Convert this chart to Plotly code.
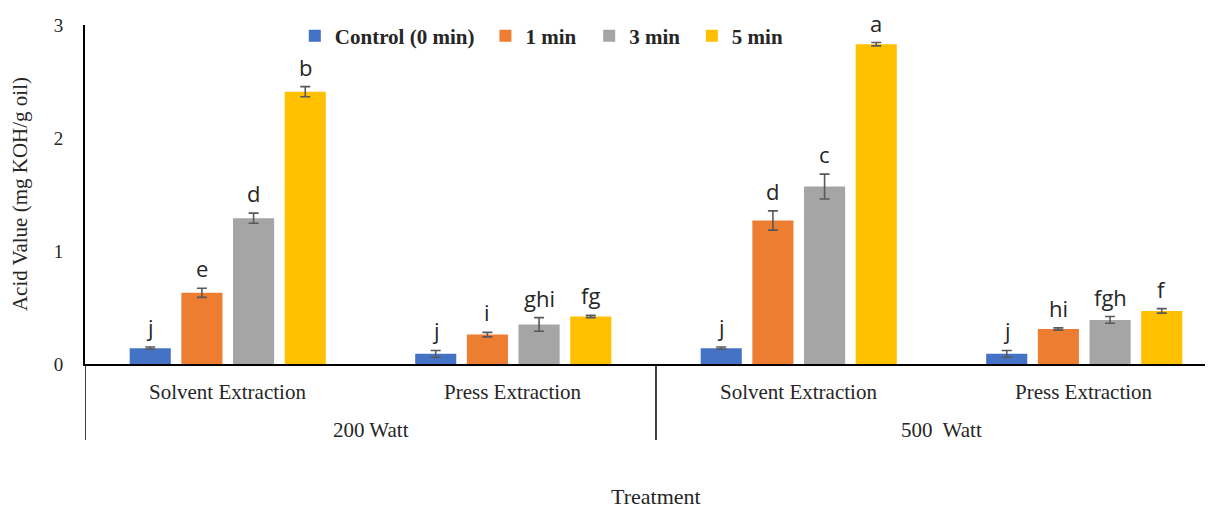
import plotly.graph_objects as go

groups = ["Solvent Extraction", "Press Extraction", "Solvent Extraction", "Press Extraction"]
powers = ["200 Watt", "500  Watt"]
series = ["Control (0 min)", "1 min", "3 min", "5 min"]
colors = ["#4472C4", "#ED7D31", "#A5A5A5", "#FFC000"]

control = [0.14, 0.09, 0.14, 0.09]
control_err = [0.01, 0.03, 0.01, 0.03]
min1 = [0.63, 0.26, 1.27, 0.31]
min1_err = [0.04, 0.02, 0.085, 0.01]
min3 = [1.29, 0.35, 1.57, 0.39]
min3_err = [0.045, 0.06, 0.11, 0.03]
min5 = [2.41, 0.42, 2.83, 0.47]
min5_err = [0.045, 0.01, 0.015, 0.02]

letters_control = ["j", "j", "j", "j"]
letters_1 = ["e", "i", "d", "hi"]
letters_3 = ["d", "ghi", "c", "fgh"]
letters_5 = ["b", "fg", "a", "f"]

values = [control, min1, min3, min5]
errors = [control_err, min1_err, min3_err, min5_err]
letters = [letters_control, letters_1, letters_3, letters_5]

SLOT = 0.181
BARW = 0.144
legend_x = [0.186, 0.355, 0.447, 0.538]
serif = "Liberation Serif"

fig = go.Figure()
for i, name in enumerate(series):
    xs = [g + (i - 1.5) * SLOT for g in range(len(groups))]
    lg = "legend" if i == 0 else f"legend{i + 1}"
    fig.add_trace(go.Bar(
        x=xs, y=values[i], width=BARW, name=name, legend=lg,
        marker=dict(color=colors[i], line=dict(width=0)),
        error_y=dict(type="data", array=errors[i], color="#595959", thickness=1.6, width=5),
    ))
    for x, v, e, t in zip(xs, values[i], errors[i], letters[i]):
        fig.add_annotation(x=x, y=v + e, xref="x", yref="y", text=t, showarrow=False,
                           xanchor="center", yanchor="bottom", yshift=3,
                           font=dict(family="Open Sans", size=22, color="#262626"))

# category labels
for g, lab in enumerate(groups):
    fig.add_annotation(x=g, y=-0.083, xref="x", yref="paper", text=lab, showarrow=False,
                       font=dict(family=serif, size=21, color="#262626"),
                       xanchor="center", yanchor="middle")
for p, lab in enumerate(powers):
    fig.add_annotation(x=2 * p + 0.5, y=-0.195, xref="x", yref="paper", text=lab, showarrow=False,
                       font=dict(family=serif, size=21, color="#262626"),
                       xanchor="center", yanchor="middle")
fig.add_annotation(x=1.5, y=-0.392, xref="x", yref="paper", text="Treatment", showarrow=False,
                   font=dict(family=serif, size=22, color="#262626"),
                   xanchor="center", yanchor="middle")
fig.add_annotation(x=-0.058, y=0.5, xref="paper", yref="paper", text="Acid Value (mg KOH/g oil)",
                   showarrow=False, textangle=-90,
                   font=dict(family=serif, size=21, color="#262626"),
                   xanchor="center", yanchor="middle")

# divider lines
for xd in [-0.5, 1.5]:
    fig.add_shape(type="line", x0=xd, x1=xd, y0=0, y1=-0.224, xref="x", yref="paper",
                  line=dict(color="black", width=1.5))

legend_style = dict(orientation="h", y=0.9676, xanchor="left", yanchor="middle",
                    font=dict(family=serif, size=21, color="#262626", weight="bold"),
                    bgcolor="rgba(0,0,0,0)", itemwidth=30)
legends = {}
for i in range(len(series)):
    key = "legend" if i == 0 else f"legend{i + 1}"
    legends[key] = dict(legend_style, x=legend_x[i])

fig.update_layout(
    width=1205, height=507,
    margin=dict(l=77, r=0, t=17, b=151),
    plot_bgcolor="white", paper_bgcolor="white",
    barmode="overlay",
    showlegend=True,
    xaxis=dict(range=[-0.5, 3.451], showticklabels=False, showgrid=False, zeroline=False,
               showline=True, linecolor="black", linewidth=1.5, ticks=""),
    yaxis=dict(range=[0, 3], tickvals=[0, 1, 2, 3], showgrid=False, zeroline=False,
               showline=True, linecolor="black", linewidth=2, ticks="",
               ticklabelstandoff=16,
               tickfont=dict(family=serif, size=19, color="#262626")),
    **legends,
)

fig.write_html("out.html")
